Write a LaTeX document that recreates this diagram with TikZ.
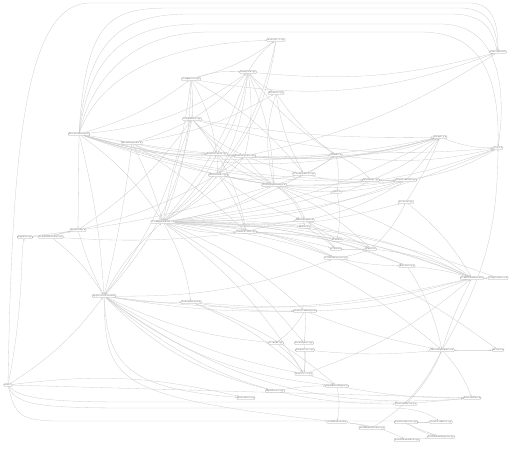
\documentclass[tikz,border=0pt]{standalone}
\usepackage{fontspec}
\usetikzlibrary{arrows.meta,backgrounds}
\tikzset{
  nd/.style={draw=gray!70,fill=white,rounded corners=0.8pt,line width=0.3pt,inner xsep=0.8pt,inner ysep=0.7pt,font=\fontsize{1.7}{2}\selectfont,text=black!85},
  e/.style={draw=gray!40,line width=0.3pt,-{Stealth[length=2pt,width=1.4pt]}}
}
\begin{document}
\begin{tikzpicture}[x=1pt,y=-1pt]
\useasboundingbox (0,0) rectangle (512,450);
\node[nd] (n1) at (79,134) {ResourceManager.h};
\node[nd] (n2) at (132,143) {EventDispatcher.h};
\node[nd] (n3) at (191,79) {ConfigReader.cpp};
\node[nd] (n4) at (192,119) {ConfigWriter.cpp};
\node[nd] (n5) at (248,72) {StringUtils.cpp};
\node[nd] (n6) at (276,40) {MemoryPool.cpp};
\node[nd] (n7) at (276,93) {FileCache.cpp};
\node[nd] (n8) at (498,52) {PlatformDefs.h};
\node[nd] (n9) at (440,137) {DebugLog.h};
\node[nd] (n10) at (498,148) {Types.h};
\node[nd] (n11) at (25,237) {AppMain.cpp};
\node[nd] (n12) at (51,237) {CommandLineArgs.cpp};
\node[nd] (n13) at (78,230) {AppSettings.h};
\node[nd] (n14) at (104,296) {ApplicationContext.h};
\node[nd] (n15) at (217,154) {RenderContext.cpp};
\node[nd] (n16) at (245,156) {RenderPipeline.cpp};
\node[nd] (n17) at (218,175) {ShaderCache.cpp};
\node[nd] (n18) at (163,222) {CoreEngineInterface.h};
\node[nd] (n19) at (246,232) {TextureLoader.cpp};
\node[nd] (n20) at (336,155) {MathVec.h};
\node[nd] (n21) at (304,174) {SceneGraphNode.cpp};
\node[nd] (n22) at (274,185) {SceneGraphManager.h};
\node[nd] (n23) at (371,180) {MatrixOps.cpp};
\node[nd] (n24) at (337,192) {Quat.h};
\node[nd] (n25) at (305,220) {EntityRegistry.h};
\node[nd] (n26) at (305,227) {Entity.cpp};
\node[nd] (n27) at (337,240) {Bounds.h};
\node[nd] (n28) at (336,249) {Collider.h};
\node[nd] (n29) at (371,249) {Physics.h};
\node[nd] (n30) at (336,258) {CollisionResponse.cpp};
\node[nd] (n31) at (406,180) {TransformUtils.cpp};
\node[nd] (n32) at (406,202) {Geometry.cpp};
\node[nd] (n33) at (407,266) {Raycaster.cpp};
\node[nd] (n34) at (472,278) {CommonDefinitions.h};
\node[nd] (n35) at (498,278) {CompilerMacros.h};
\node[nd] (n36) at (8,385) {main.c};
\node[nd] (n37) at (191,302) {AudioSubsystem.h};
\node[nd] (n38) at (246,398) {AudioMixer.cpp};
\node[nd] (n39) at (305,311) {NetSessionManager.h};
\node[nd] (n40) at (276,343) {SocketIO.cpp};
\node[nd] (n41) at (304,343) {PacketQueue.cpp};
\node[nd] (n42) at (305,350) {PacketCodec.cpp};
\node[nd] (n43) at (304,374) {NetProtocol.cpp};
\node[nd] (n44) at (275,391) {InputDevices.cpp};
\node[nd] (n45) at (337,386) {InputEventMapper.h};
\node[nd] (n46) at (337,422) {SerialFramework.h};
\node[nd] (n47) at (372,428) {SerialBinaryFormat.cpp};
\node[nd] (n48) at (442,350) {ThreadingPrimitives.h};
\node[nd] (n49) at (498,350) {Atomics.h};
\node[nd] (n50) at (472,398) {PlatformTime.h};
\node[nd] (n51) at (406,404) {PlatformThread.cpp};
\node[nd] (n52) at (406,422) {SerialJsonReader.cpp};
\node[nd] (n53) at (441,422) {SerialJsonWriter.cpp};
\node[nd] (n54) at (407,440) {SerialSchemaCheck.cpp};
\node[nd] (n55) at (441,437) {SerialSchemaRegistry.cpp};
\begin{scope}[on background layer]
\draw[e] (n36) .. controls (12,150) and (25,3) .. (90,3) -- (470,3) .. controls (496,3) and (498,30) .. (n8);
\draw[e] (n1) .. controls (86,20) and (110,8) .. (170,8) -- (460,8) .. controls (494,8) and (496,35) .. (n8);
\draw[e] (n1) .. controls (88,40) and (120,14) .. (190,14) -- (450,14) .. controls (490,14) and (492,35) .. (n8);
\draw[e] (n1) .. controls (90,60) and (120,24) .. (200,24) -- (440,24) .. controls (505,24) and (505,100) .. (n10);
\draw[e] (n1) .. controls (92,80) and (130,32) .. (210,32) -- (420,32) .. controls (470,32) and (500,60) .. (n10);
\draw[e] (n1) .. controls (95,90) and (140,45) .. (n6);
\draw[e] (n36) .. controls (25,300) and (20,250) .. (n11);
\draw[e] (n36) -- (n50);
\draw[e] (n36) .. controls (20,400) and (60,402) .. (130,402) -- (380,402) .. controls (395,402) .. (n51);
\draw[e] (n36) .. controls (15,405) and (40,408) .. (130,408) -- (390,408) .. controls (420,408) and (430,415) .. (n53);
\draw[e] (n36) .. controls (15,415) and (20,421) .. (60,421) -- (400,421) .. controls (420,430) and (430,433) .. (n55);
\draw[e] (n14) .. controls (106,380) and (110,396) .. (n46);
\draw[e] (n14) .. controls (108,360) and (120,388) .. (n38);
\foreach \a/\b/\c in {
n1/n9/-15,n1/n5/-15,n1/n3/-10,n1/n14/5,n1/n18/10,n1/n15/-10,n1/n16/-8,n1/n2/0,n1/n13/0,n1/n22/-5,n1/n20/-10,n1/n31/-10,n1/n23/-8,
n2/n14/3,n2/n18/5,n2/n15/-5,n2/n5/-15,n2/n7/-10,n2/n9/-10,n2/n17/-5,n2/n19/5,
n3/n5/10,n3/n6/-10,n3/n8/-15,n3/n14/15,n3/n18/10,n3/n4/5,n3/n15/10,n3/n21/10,
n4/n15/5,n4/n16/-10,n4/n14/15,n4/n18/-5,n4/n22/-10,n4/n9/-5,n4/n10/-10,
n5/n7/-10,n5/n6/10,n5/n15/10,n5/n17/10,n5/n22/10,n5/n20/-10,n5/n8/-10,n5/n16/10,n5/n18/10,
n6/n18/20,n6/n17/15,n7/n22/-15,n7/n20/-10,n7/n21/-10,n9/n10/-10,
n11/n13/-5,n11/n22/-5,n12/n13/5,n12/n19/-5,n12/n14/10,n13/n14/-5,n13/n4/-10,n13/n16/-10,
n14/n44/-15,n14/n45/-15,n14/n50/-20,n14/n51/-20,n14/n43/-10,n14/n40/-10,n14/n37/-5,n14/n39/-5,n14/n34/-10,n14/n30/-10,n14/n18/10,
n15/n16/0,n15/n17/0,n15/n19/10,n15/n22/-10,n15/n20/-5,n15/n9/-10,
n16/n22/-10,n16/n21/-5,n16/n9/-10,n16/n8/-10,
n17/n19/10,n17/n25/-10,n17/n21/-10,n17/n23/-10,n17/n31/-10,
n18/n15/-10,n18/n16/-10,n18/n17/-10,n18/n19/-10,n18/n22/-10,n18/n21/-10,n18/n25/-5,n18/n26/5,n18/n30/10,n18/n31/-10,n18/n32/-10,n18/n33/10,n18/n34/10,n18/n35/10,n18/n9/-10,n18/n10/-10,n18/n37/10,n18/n39/10,n18/n41/10,n18/n43/10,n18/n48/15,n18/n49/15,n18/n24/-5,n18/n27/5,n18/n28/5,
n19/n25/5,n19/n30/10,n19/n33/10,n19/n34/10,
n20/n9/-10,n20/n23/10,n20/n24/10,n20/n10/-10,n21/n20/-5,n21/n31/-10,
n22/n25/20,n22/n26/20,n22/n20/-10,n22/n24/-5,n22/n29/10,n22/n10/-10,n22/n34/10,
n23/n24/10,n23/n31/0,n23/n9/-10,n24/n31/-5,n24/n27/10,
n25/n27/0,n25/n28/5,n25/n29/5,n25/n31/-10,n26/n28/5,n26/n34/10,
n27/n29/5,n28/n29/0,n30/n29/-5,n29/n34/10,n29/n32/-10,n30/n33/-5,
n31/n9/-5,n31/n10/-10,n32/n9/-5,n32/n34/10,n33/n34/5,n34/n35/0,n33/n48/10,
n37/n39/-5,n37/n43/10,n37/n34/-10,n37/n45/10,
n39/n34/-10,n39/n40/10,n39/n41/5,n39/n48/-5,n40/n43/10,n41/n43/5,n42/n43/5,n42/n48/-5,
n43/n45/5,n43/n34/-10,n44/n45/5,n45/n50/-5,n45/n46/10,n46/n47/5,n47/n48/-15,
n48/n49/0,n48/n10/-15,n48/n34/5,n48/n50/10,
n51/n50/0,n51/n48/-10,n52/n53/0,n54/n55/0,n52/n55/-10,n46/n54/10,
n36/n38/10,n36/n14/-10}
{\draw[e] (\a) to[bend left=\c] (\b);}
\end{scope}
\end{tikzpicture}
\end{document}
